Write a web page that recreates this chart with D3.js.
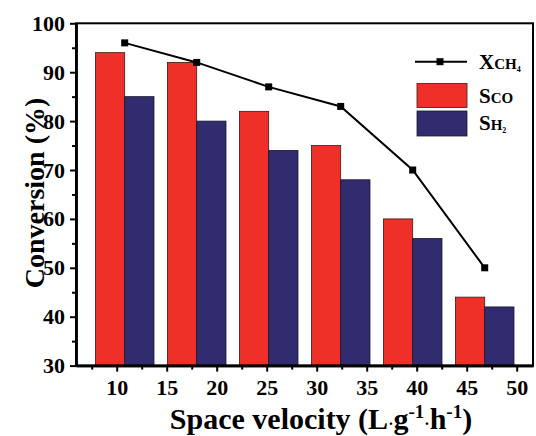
<!DOCTYPE html>
<html>
<head>
<meta charset="utf-8">
<script src="https://cdn.jsdelivr.net/npm/d3@7"></script>
<style>
  body { margin: 0; background: #fff; }
  text { font-family: "Liberation Serif", "Times New Roman", serif; font-weight: bold; }
</style>
</head>
<body>
<script>
// space velocity positions of the groups (L g-1 h-1, as plotted)
var velocity = [10.8, 18.0, 25.2, 32.4, 39.6, 46.8];
var xCH4 = [96, 92, 87, 83, 70, 50];
var sCO = [94, 92, 82, 75, 60, 44];
var sH2 = [85, 80, 74, 68, 56, 42];
var xTicks = [10, 15, 20, 25, 30, 35, 40, 45, 50];
var xMinor = [7.5, 12.5, 17.5, 22.5, 27.5, 32.5, 37.5, 42.5, 47.5];
var yTicks = [30, 40, 50, 60, 70, 80, 90, 100];
var yMinor = [35, 45, 55, 65, 75, 85, 95];

var width = 536,
    height = 436,
    barW = 2.93,
    red = "#ee3029",
    blue = "#302c6f";

var svg = d3.select("body").append("svg")
    .attr("width", width)
    .attr("height", height);

var x = d3.scaleLinear().domain([5.93, 51.63]).range([76, 533]);
var y = d3.scaleLinear().domain([30, 100]).range([365.6, 23.3]);

// bars
var g = svg.append("g");
g.selectAll("rect.co")
    .data(sCO)
    .enter().append("rect")
    .attr("class", "co")
    .attr("x", function(d, i) { return x(velocity[i] - barW); })
    .attr("y", function(d) { return y(d); })
    .attr("width", function(d, i) { return x(velocity[i]) - x(velocity[i] - barW); })
    .attr("height", function(d) { return y(30) - y(d); })
    .attr("fill", red)
    .attr("stroke", "#3a1a1a")
    .attr("stroke-width", 0.8);

g.selectAll("rect.h2")
    .data(sH2)
    .enter().append("rect")
    .attr("class", "h2")
    .attr("x", function(d, i) { return x(velocity[i]); })
    .attr("y", function(d) { return y(d); })
    .attr("width", function(d, i) { return x(velocity[i] + barW) - x(velocity[i]); })
    .attr("height", function(d) { return y(30) - y(d); })
    .attr("fill", blue)
    .attr("stroke", "#1a1a2a")
    .attr("stroke-width", 0.8);

// line
var line = d3.line()
    .x(function(d, i) { return x(velocity[i]); })
    .y(function(d) { return y(d); });

svg.append("path")
    .datum(xCH4)
    .attr("d", line)
    .attr("fill", "none")
    .attr("stroke", "#000")
    .attr("stroke-width", 2);

svg.selectAll("rect.pt")
    .data(xCH4)
    .enter().append("rect")
    .attr("class", "pt")
    .attr("x", function(d, i) { return x(velocity[i]) - 3.5; })
    .attr("y", function(d) { return y(d) - 3.5; })
    .attr("width", 7)
    .attr("height", 7)
    .attr("fill", "#000");

// frame
svg.append("rect")
    .attr("x", 76).attr("y", 23.3)
    .attr("width", 533 - 76).attr("height", 365.6 - 23.3)
    .attr("fill", "none")
    .attr("stroke", "#000")
    .attr("stroke-width", 2);

// axes
function styleAxis(sel) {
  sel.select(".domain").attr("stroke-width", 2.5);
  sel.selectAll(".tick line").attr("stroke-width", 2);
  sel.selectAll("text")
      .attr("font-family", "Liberation Serif, Times New Roman, serif")
      .attr("font-weight", "bold")
      .attr("font-size", 22)
      .attr("fill", "#000");
}

svg.append("g")
    .attr("transform", "translate(0,365.6)")
    .call(d3.axisBottom(x).tickValues(xMinor).tickSize(4).tickSizeOuter(0).tickFormat(""))
    .call(styleAxis);
svg.append("g")
    .attr("transform", "translate(0,365.6)")
    .call(d3.axisBottom(x).tickValues(xTicks).tickSize(6).tickSizeOuter(0).tickPadding(8))
    .call(styleAxis);

svg.append("g")
    .attr("transform", "translate(76,0)")
    .call(d3.axisLeft(y).tickValues(yMinor).tickSize(4).tickSizeOuter(0).tickFormat(""))
    .call(styleAxis);
svg.append("g")
    .attr("transform", "translate(76,0)")
    .call(d3.axisLeft(y).tickValues(yTicks).tickSize(6).tickSizeOuter(0).tickPadding(5))
    .call(styleAxis);

// axis titles
svg.append("text")
    .attr("transform", "translate(44,193) rotate(-90)")
    .attr("text-anchor", "middle")
    .attr("font-size", 28)
    .text("Conversion (%)");

var xl = svg.append("text")
    .attr("x", 321)
    .attr("y", 429)
    .attr("text-anchor", "middle")
    .attr("font-size", 30);
xl.append("tspan").text("Space velocity (L");
xl.append("tspan").attr("font-size", 16).text("·");
xl.append("tspan").text("g");
xl.append("tspan").attr("font-size", 19).attr("dy", -11).text("-1");
xl.append("tspan").attr("font-size", 16).attr("dy", 11).text("·");
xl.append("tspan").text("h");
xl.append("tspan").attr("font-size", 19).attr("dy", -11).text("-1");
xl.append("tspan").attr("dy", 11).text(")");

// legend
var lg = svg.append("g");
lg.append("line")
    .attr("x1", 415).attr("x2", 467)
    .attr("y1", 61.7).attr("y2", 61.7)
    .attr("stroke", "#000").attr("stroke-width", 2);
lg.append("rect")
    .attr("x", 436.5).attr("y", 58.2)
    .attr("width", 7).attr("height", 7)
    .attr("fill", "#000");
lg.append("rect")
    .attr("x", 417).attr("y", 83.5)
    .attr("width", 50).attr("height", 24)
    .attr("fill", red).attr("stroke", "#3a1a1a").attr("stroke-width", 0.8);
lg.append("rect")
    .attr("x", 417).attr("y", 111)
    .attr("width", 50).attr("height", 25)
    .attr("fill", blue).attr("stroke", "#1a1a2a").attr("stroke-width", 0.8);

var t1 = lg.append("text").attr("x", 479).attr("y", 69).attr("font-size", 21);
t1.append("tspan").text("X");
t1.append("tspan").attr("font-size", 15).text("CH");
t1.append("tspan").attr("font-size", 8).attr("dy", 3).text("4");

var t2 = lg.append("text").attr("x", 479).attr("y", 103).attr("font-size", 21);
t2.append("tspan").text("S");
t2.append("tspan").attr("font-size", 15).text("CO");

var t3 = lg.append("text").attr("x", 479).attr("y", 130).attr("font-size", 21);
t3.append("tspan").text("S");
t3.append("tspan").attr("font-size", 15).text("H");
t3.append("tspan").attr("font-size", 8).attr("dy", 3).text("2");
</script>
</body>
</html>
